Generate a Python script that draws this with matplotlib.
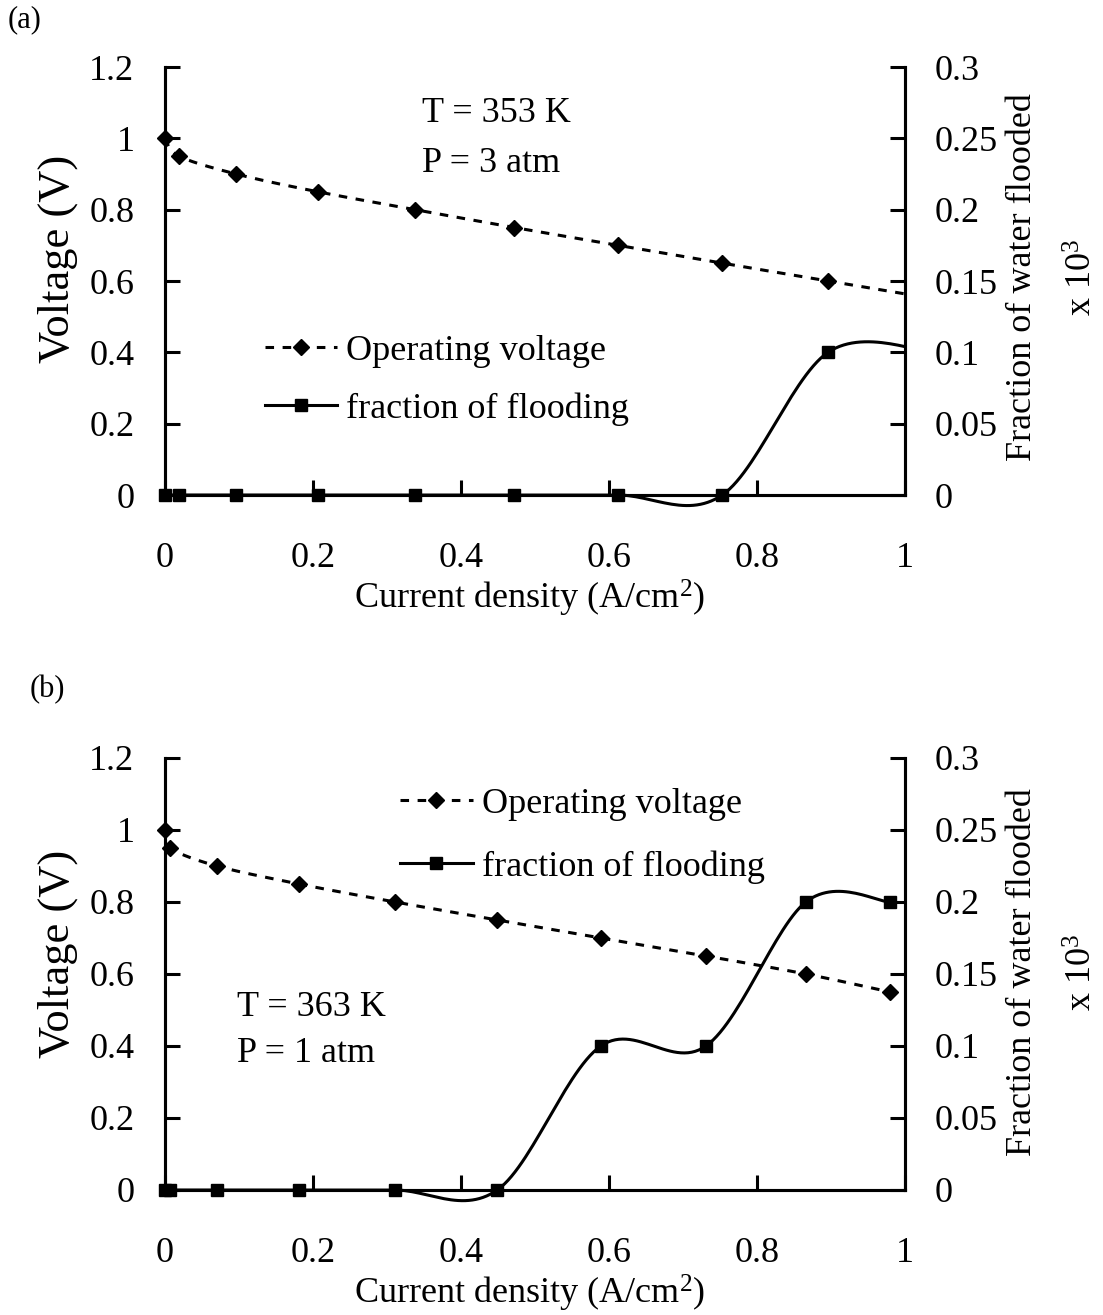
import numpy as np
import matplotlib
matplotlib.use("Agg")
import matplotlib.pyplot as plt
from matplotlib.lines import Line2D
from matplotlib.patches import Rectangle

plt.rcParams['font.family'] = ['Liberation Serif', 'DejaVu Serif']
plt.rcParams['mathtext.fontset'] = 'custom'
plt.rcParams['mathtext.rm'] = 'Liberation Serif'
plt.rcParams['mathtext.it'] = 'Liberation Serif:italic'

# ---- data -------------------------------------------------------------
# (a) T = 353 K, P = 3 atm
a_current = [0.0, 0.019, 0.096, 0.207, 0.338, 0.472, 0.612, 0.753, 0.896, 1.04]
a_voltage = [1.00, 0.95, 0.90, 0.85, 0.80, 0.75, 0.70, 0.65, 0.60, 0.55]
a_flood = [0.0, 0.0, 0.0, 0.0, 0.0, 0.0, 0.0, 0.0, 0.10, 0.10]

# (b) T = 363 K, P = 1 atm
b_current = [0.0, 0.0068, 0.070, 0.181, 0.311, 0.449, 0.589, 0.731, 0.866, 0.980]
b_voltage = [1.00, 0.95, 0.90, 0.85, 0.80, 0.75, 0.70, 0.65, 0.60, 0.55]
b_flood = [0.0, 0.0, 0.0, 0.0, 0.0, 0.0, 0.10, 0.10, 0.20, 0.20]

x_ticks = [0, 0.2, 0.4, 0.6, 0.8, 1.0]
x_ticklabels = ["0", "0.2", "0.4", "0.6", "0.8", "1"]
v_ticks = [0, 0.2, 0.4, 0.6, 0.8, 1.0, 1.2]
v_ticklabels = ["0", "0.2", "0.4", "0.6", "0.8", "1", "1.2"]
f_ticks = [0, 0.05, 0.10, 0.15, 0.20, 0.25, 0.30]
f_ticklabels = ["0", "0.05", "0.1", "0.15", "0.2", "0.25", "0.3"]

LABEL_V = "Operating voltage"
LABEL_F = "fraction of flooding"


def smooth(xs, ys, n=30):
    """Cubic Bezier smoothing through every point (Catmull-Rom style)."""
    p = np.column_stack([xs, ys]).astype(float)
    p = np.vstack([p[0], p, p[-1]])
    out = []
    t = np.linspace(0, 1, n)[:, None]
    for i in range(1, len(p) - 2):
        p0, p1, p2, p3 = p[i - 1], p[i], p[i + 1], p[i + 2]
        c1 = p1 + (p2 - p0) / 6.0
        c2 = p2 - (p3 - p1) / 6.0
        seg = ((1 - t) ** 3) * p1 + 3 * ((1 - t) ** 2) * t * c1 \
            + 3 * (1 - t) * t ** 2 * c2 + t ** 3 * p2
        out.append(seg if i == 1 else seg[1:])
    s = np.vstack(out)
    return s[:, 0], s[:, 1]


W, H = 1103, 1315
fig = plt.figure(figsize=(W / 100, H / 100), dpi=100)

LW = 2.2
DASH = (2.8, 2.8)
TICK_FS = 26
TXT_FS = 26
MS = 8


def px_axes(left, right, bottom, top):
    return [left / W, 1 - bottom / H, (right - left) / W, (bottom - top) / H]


def clip_box(a, x0, x1):
    # clip in x to the plotted range, but let marks spill slightly in y
    return Rectangle((x0, -0.1), x1 - x0, 1.3, transform=a.transAxes)


def panel(rect, xs, volts, floods, legend_anchor, legend_spacing, notes,
          vlabel_y, right_label_y, xlabel_y):
    ax = fig.add_axes(rect)
    ax2 = ax.twinx()
    ax.set_zorder(ax2.get_zorder() + 1)
    ax.patch.set_visible(False)

    # operating voltage: dashed smooth curve with diamond markers
    sx, sy = smooth(xs, volts)
    ax.plot(sx, sy, color='black', lw=LW, dashes=DASH)
    mv, = ax.plot(xs, volts, ls='none', marker='D', ms=MS, color='black',
                  zorder=5)
    mv.set_clip_path(clip_box(ax, -0.03, 1.015))
    # flooding fraction: solid smooth curve with square markers
    fx, fy = smooth(xs, floods)
    lf, = ax2.plot(fx, fy, color='black', lw=LW)
    lf.set_clip_path(clip_box(ax2, -0.03, 1.0))
    mk, = ax2.plot(xs, floods, ls='none', marker='s', ms=MS, color='black',
                   zorder=5)
    mk.set_clip_path(clip_box(ax2, -0.03, 1.015))

    ax.set_xlim(0, 1)
    ax.set_ylim(0, 1.2)
    ax2.set_ylim(0, 0.3)
    ax.set_xticks(x_ticks)
    ax.set_xticklabels(x_ticklabels)
    ax.set_yticks(v_ticks)
    ax.set_yticklabels(v_ticklabels)
    ax2.set_yticks(f_ticks)
    ax2.set_yticklabels(f_ticklabels)

    for a in (ax, ax2):
        a.spines['top'].set_visible(False)
        for s in ('left', 'right', 'bottom'):
            a.spines[s].set_linewidth(LW)
    ax.tick_params(axis='x', direction='in', length=11, width=LW,
                   labelsize=TICK_FS, pad=34)
    ax.tick_params(axis='y', direction='in', length=11, width=LW,
                   labelsize=TICK_FS, pad=22)
    ax2.tick_params(axis='y', direction='in', length=11, width=LW,
                    labelsize=TICK_FS, pad=21)

    h1 = Line2D([], [], color='black', lw=LW, dashes=DASH, marker='D', ms=MS)
    h2 = Line2D([], [], color='black', lw=LW, marker='s', ms=MS)
    ax2.legend([h1, h2], [LABEL_V, LABEL_F], loc='center left',
               bbox_to_anchor=legend_anchor, frameon=False, fontsize=TXT_FS,
               handlelength=2.0, handletextpad=0.25, borderpad=0,
               borderaxespad=0, labelspacing=legend_spacing, numpoints=1)

    for (tx, ty, s) in notes:
        ax.text(tx, ty, s, transform=ax.transAxes, fontsize=TXT_FS,
                ha='left', va='center')

    fig.text(58 / W, 1 - vlabel_y / H, "Voltage (V)", rotation=90,
             ha='center', va='center', fontsize=32)
    fig.text(1023 / W, 1 - right_label_y / H, "Fraction of water flooded",
             rotation=90, ha='center', va='center', fontsize=TXT_FS)
    fig.text(1083 / W, 1 - right_label_y / H, r"x 10$^{3}$",
             rotation=90, ha='center', va='center', fontsize=TXT_FS)
    fig.text(530 / W, 1 - xlabel_y / H, r"Current density (A/cm$^{2}$)",
             ha='center', va='center', fontsize=TXT_FS)
    return ax, ax2


panel(px_axes(165, 905, 495, 67), a_current, a_voltage, a_flood,
      (0.135, 0.268), 0.68,
      [(0.347, 0.8925, "T = 353 K"), (0.347, 0.7757, "P = 3 atm")],
      259, 277, 598)
panel(px_axes(165, 905, 1190, 758), b_current, b_voltage, b_flood,
      (0.318, 0.820), 0.82,
      [(0.097, 0.4236, "T = 363 K"), (0.097, 0.317, "P = 1 atm")],
      954, 972, 1293)

fig.text(8 / W, 1 - 20 / H, "(a)", ha='left', va='center', fontsize=22)
fig.text(30 / W, 1 - 690 / H, "(b)", ha='left', va='center', fontsize=22)

fig.savefig("out.png", dpi=100)
